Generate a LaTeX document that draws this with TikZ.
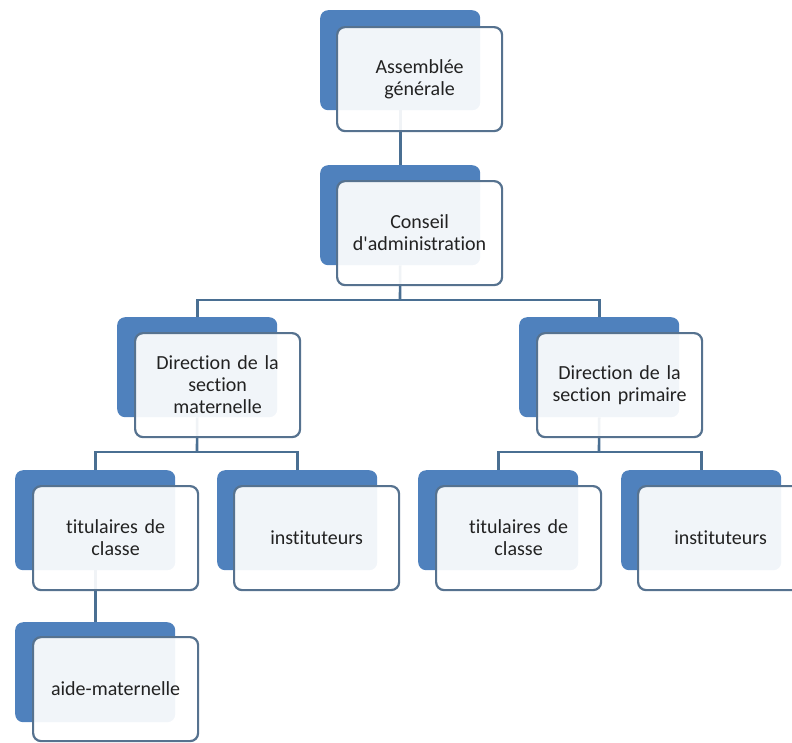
\documentclass[tikz,border=0pt]{standalone}
\usepackage{fontspec}
\setmainfont{Carlito}[Ligatures={NoCommon}]
\usetikzlibrary{backgrounds}
\definecolor{blueA}{HTML}{4F81BD}
\definecolor{borderC}{HTML}{56728F}
\definecolor{connC}{HTML}{4A6F92}
\definecolor{textC}{HTML}{222222}
\tikzset{
  backbox/.style={rectangle, rounded corners=8pt, fill=blueA, minimum width=160pt, minimum height=100pt, anchor=north west, inner sep=0pt},
  frontbox/.style={rectangle, rounded corners=8pt, draw=borderC, line width=2.2pt, fill=white, fill opacity=0.92, text opacity=1, minimum width=165pt, minimum height=104pt, anchor=north west, text width=150pt, align=center, inner sep=0pt, text=textC, font=\fontsize{20}{22}\selectfont},
  conn/.style={draw=connC, line width=2.6pt}
}
\begin{document}
\begin{tikzpicture}[x=1pt, y=-1pt]
\path[use as bounding box] (0,0) rectangle (792,742);
% level 1
\node[backbox] (b1) at (320,10) {};
\node[frontbox] (f1) at (336,26) {Assemblée\\générale};
% level 2
\node[backbox] (b2) at (320,165) {};
\node[frontbox] (f2) at (336,180) {Conseil\\d\textquotesingle administration};
% level 3
\node[backbox] (b3) at (117,317) {};
\node[frontbox] (f3) at (134,332) {Direction de la\\section\\maternelle};
\node[backbox] (b4) at (519,317) {};
\node[frontbox] (f4) at (536,332) {Direction de la\\section primaire};
% level 4
\node[backbox] (b5) at (15,470) {};
\node[frontbox] (f5) at (32,485) {titulaires de\\classe};
\node[backbox] (b6) at (217,470) {};
\node[frontbox] (f6) at (233,485) {instituteurs};
\node[backbox] (b7) at (418,470) {};
\node[frontbox] (f7) at (435,485) {titulaires de\\classe};
\node[backbox] (b8) at (621,470) {};
\node[frontbox] (f8) at (637,485) {instituteurs};
% level 5
\node[backbox] (b9) at (15,622) {};
\node[frontbox] (f9) at (32,636) {aide-maternelle};
% junctions
\coordinate (bar1) at (400,300);
\coordinate (bar2L) at (197,452);
\coordinate (bar2R) at (599,452);
\begin{scope}[on background layer]
\draw[conn] (b1.south) -- (b2.north);
\draw[conn] (b2.south) -- (bar1);
\draw[conn] (b3.north) |- (bar1) -| (b4.north);
\draw[conn] (b3.south) -- (bar2L);
\draw[conn] (b5.north) |- (bar2L) -| (b6.north);
\draw[conn] (b4.south) -- (bar2R);
\draw[conn] (b7.north) |- (bar2R) -| (b8.north);
\draw[conn] (b5.south) -- (b9.north);
\end{scope}
\end{tikzpicture}
\end{document}
